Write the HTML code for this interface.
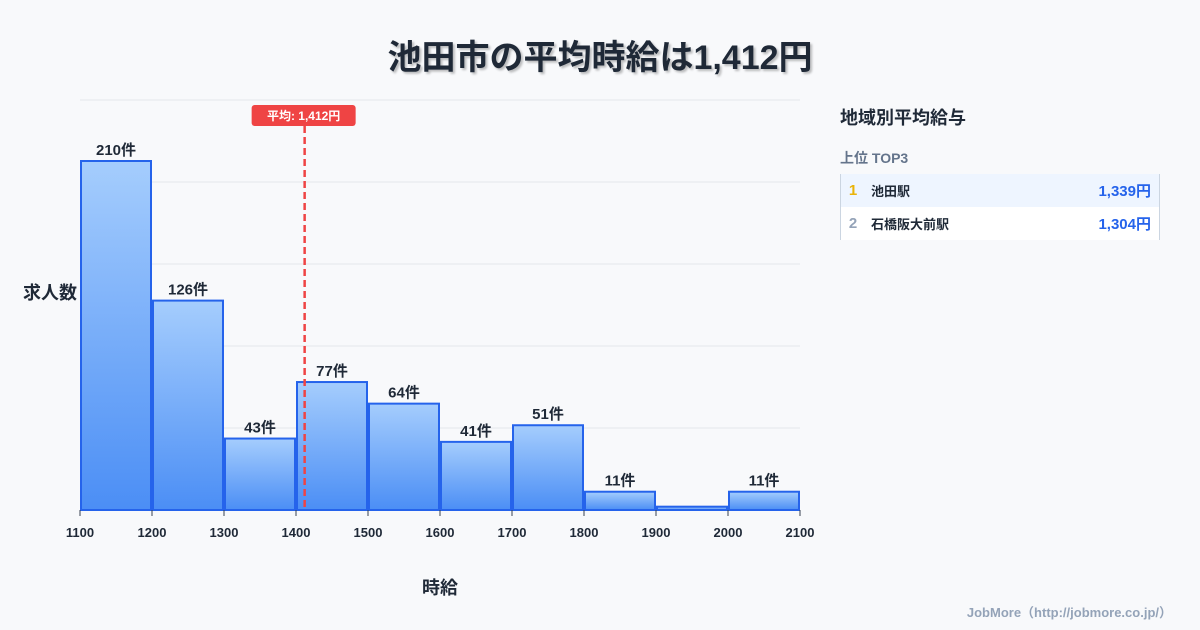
<!DOCTYPE html>
<html><head><meta charset="utf-8"><style>
body{margin:0;width:1200px;height:630px;background:#f8f9fb;font-family:"Liberation Sans","Noto Sans CJK JP",sans-serif;overflow:hidden;position:relative}
.t{position:absolute;left:0;width:1200px;top:30px;text-align:center;font-size:34px;font-weight:bold;color:#1f2937;text-shadow:2px 2px 2px rgba(0,0,0,.25)}
.side{position:absolute;left:840px;top:104px;width:320px}
.row{display:flex;align-items:center;height:33px;font-size:14px;font-weight:bold;color:#1f2937;border-right:1px solid #cbd5e1;border-left:1px solid #cbd5e1}
</style></head><body>
<div class="t">池田市の平均時給は1,412円</div>
<svg id="c" width="1200" height="630" style="position:absolute;left:0;top:0"></svg>
<div class="side">
<div style="font-size:18px;font-weight:bold;color:#1f2937">地域別平均給与</div>
<div style="font-size:14px;font-weight:bold;color:#64748b;margin-top:18px;margin-bottom:6px">上位 TOP3</div>
<div class="row" style="background:#eef5ff"><span style="color:#eab308;width:24px;text-align:center;font-size:15px">1</span><span style="flex:1;font-size:13px;padding-left:6px">池田駅</span><span style="color:#2563eb;font-size:15px;padding-right:8px">1,339円</span></div>
<div class="row" style="background:#fff"><span style="color:#94a3b8;width:24px;text-align:center;font-size:15px">2</span><span style="flex:1;font-size:13px;padding-left:6px">石橋阪大前駅</span><span style="color:#2563eb;font-size:15px;padding-right:8px">1,304円</span></div>
</div>
<div style="position:absolute;right:28px;top:602px;font-size:13px;font-weight:bold;color:#94a3b8">JobMore（http://jobmore.co.jp/）</div>
<script>
const binStarts=[1100,1200,1300,1400,1500,1600,1700,1800,1900,2000];
const counts=[210,126,43,77,64,41,51,11,2,11];
const xTicks=[1100,1200,1300,1400,1500,1600,1700,1800,1900,2000,2100];
const avgWage=1412;
const NS="http://www.w3.org/2000/svg",svg=document.getElementById('c');
const x=v=>80+(v-1100)*0.72, y=v=>510-v*(349/210);
function el(t,a,p){const e=document.createElementNS(NS,t);for(const k in a)e.setAttribute(k,a[k]);(p||svg).appendChild(e);return e;}
const defs=el('defs',{});const g=el('linearGradient',{id:'bg',x1:0,y1:0,x2:0,y2:1},defs);
el('stop',{offset:0,'stop-color':'#a5cdfd'},g);el('stop',{offset:1,'stop-color':'#4b8ef5'},g);
for(let i=0;i<6;i++){const l=el('line',{x1:80,x2:800,y1:100+i*82,y2:100+i*82,stroke:'#e5e7eb'});}
binStarts.forEach((b,i)=>{
 const r=el('rect',{x:x(b)+1,y:y(counts[i]),width:70,height:510-y(counts[i]),fill:'url(#bg)',stroke:'#2563eb','stroke-width':2});
 
 
 if(counts[i]>=5){const t=el('text',{x:x(b)+36,y:y(counts[i])-6,'text-anchor':'middle','font-size':15,'font-weight':'bold',fill:'#1f2937'});t.textContent=counts[i]+'件';
 
 }
});
xTicks.forEach(v=>{el('line',{x1:x(v),x2:x(v),y1:510,y2:516,stroke:'#374151'});
 const t=el('text',{x:x(v),y:537,'text-anchor':'middle','font-size':13,'font-weight':'bold',fill:'#1f2937'});t.textContent=v;
 
 });
const ax=x(avgWage);
const al=el('line',{x1:ax,x2:ax,y1:126,y2:510,stroke:'#ef4444','stroke-width':2.5,'stroke-dasharray':'7,4'});


const ab=el('rect',{x:ax-53,y:105,width:104,height:21,rx:3,fill:'#ef4444'});


const at=el('text',{x:ax-1,y:120,'text-anchor':'middle','font-size':12,'font-weight':'bold',fill:'#fff'});at.textContent='平均: 1,412円';


const yt=el('text',{x:50,y:299,'text-anchor':'middle','font-size':18,'font-weight':'bold',fill:'#1f2937'});yt.textContent='求人数';


const xt=el('text',{x:440,y:594,'text-anchor':'middle','font-size':18,'font-weight':'bold',fill:'#1f2937'});xt.textContent='時給';


</script>
</body></html>
